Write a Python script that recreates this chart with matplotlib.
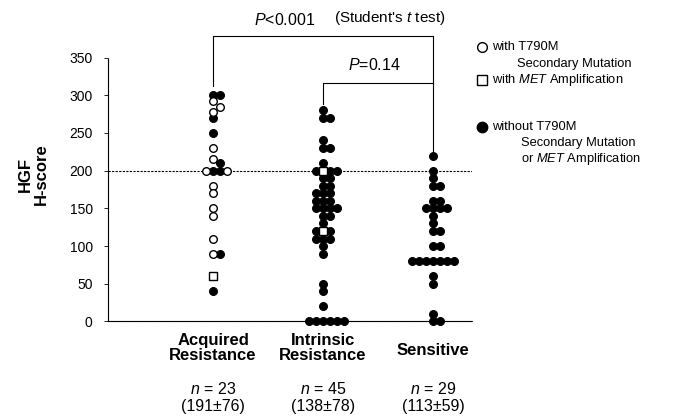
import matplotlib
matplotlib.use("Agg")
import matplotlib.pyplot as plt
import numpy as np

plt.rcParams['font.family'] = ['Liberation Sans', 'DejaVu Sans']
plt.rcParams['mathtext.fontset'] = 'custom'
plt.rcParams['mathtext.it'] = 'Liberation Sans:italic'
plt.rcParams['mathtext.rm'] = 'Liberation Sans'

# data (H-score values), kind: o = T790M, s = MET, f = neither
groups = ["Acquired\nResistance", "Intrinsic\nResistance", "Sensitive"]
n_labels = ["$n$ = 23\n(191\u00b176)", "$n$ = 45\n(138\u00b178)", "$n$ = 29\n(113\u00b159)"]

acq_vals = [300, 300, 292, 285, 278, 270, 250, 230, 215, 210, 200, 200, 200, 200,
            180, 170, 150, 140, 110, 90, 90, 60, 40]
acq_kind = ['f', 'f', 'o', 'o', 'o', 'f', 'f', 'o', 'o', 'f', 'f', 'f', 'o', 'o',
            'o', 'o', 'o', 'o', 'o', 'o', 'f', 's', 'f']

int_vals = [280, 270, 270, 240, 230, 230, 210, 200, 200, 200, 200, 190, 190, 180, 180,
            170, 170, 170, 160, 160, 160, 150, 150, 150, 150, 140, 140, 130,
            120, 120, 120, 110, 110, 110, 100, 90, 50, 40, 20, 0, 0, 0, 0, 0, 0]
int_kind = ['f'] * 7 + ['s', 'f', 'f', 'f'] + ['f'] * 17 + ['s', 'f', 'f'] + ['f'] * 14

sen_vals = [220, 200, 190, 180, 180, 160, 160, 150, 150, 150, 150, 140, 130, 120, 120,
            100, 100, 80, 80, 80, 80, 80, 80, 80, 60, 50, 10, 0, 0]
sen_kind = ['f'] * 29

all_vals = [acq_vals, int_vals, sen_vals]
all_kind = [acq_kind, int_kind, sen_kind]

fig = plt.figure(figsize=(6.75, 4.16), dpi=100)
ax = fig.add_axes([108 / 675, 93 / 416, 364 / 675, 267 / 416])
ax.set_xlim(-0.955, 2.355)
ax.set_ylim(-2, 352)

# pixel scales for the swarm layout
px_x = 364 / (2.355 + 0.955)
px_y = 267 / 354.0
step = 7.0   # px between neighbours in a row
mind = 6.0   # px, minimum distance between dot centres

for gi, (vals, kinds) in enumerate(zip(all_vals, all_kind)):
    placed = []
    xs = []
    for v in vals:
        yp = v * px_y
        for k in [0, 1, -1, 2, -2, 3, -3, 4, -4]:
            xp = k * step
            if all((xp - a) ** 2 + (yp - b) ** 2 >= mind ** 2 for a, b in placed):
                break
        placed.append((xp, yp))
        xs.append(gi + xp / px_x)
    xs = np.array(xs)
    vals = np.array(vals)
    kinds = np.array(kinds)
    m = kinds == 'f'
    ax.scatter(xs[m], vals[m], s=32, c='black', edgecolors='black', linewidths=0.8,
               zorder=3, clip_on=False)
    m = kinds == 'o'
    ax.scatter(xs[m], vals[m], s=30, c='white', edgecolors='black', linewidths=1.0,
               zorder=4, clip_on=False)
    m = kinds == 's'
    ax.scatter(xs[m], vals[m], s=32, marker='s', c='white', edgecolors='black',
               linewidths=1.0, zorder=4, clip_on=False)

# reference line at 200
ax.axhline(200, color='black', lw=0.8, ls=(0, (2, 1.2)), zorder=1)

for side in ['top', 'right']:
    ax.spines[side].set_visible(False)
ax.spines['left'].set_bounds(0, 350)
ax.spines['left'].set_linestyle((0, (1, 0.6)))
ax.spines['bottom'].set_linestyle((0, (1, 0.6)))
ax.spines['left'].set_linewidth(0.8)
ax.spines['bottom'].set_linewidth(0.8)
ax.spines['bottom'].set_position(('data', 0))

ax.set_yticks(np.arange(0, 351, 50))
ax.tick_params(axis='y', direction='out', length=3, width=0.6, labelsize=10, pad=8)
ax.set_xticks([])

ax.text(-0.955 - 75 / px_x, 195, "HGF\nH-score", rotation=90, ha='center', va='center',
        fontsize=12, fontweight='bold', linespacing=1.1)

# category labels and n
for gi in range(3):
    if gi < 2:
        ax.text(gi, -15, groups[gi], ha='center', va='top', fontsize=12,
                fontweight='bold', linespacing=1.05)
    else:
        ax.text(gi, -38, "Sensitive", ha='center', va='center', fontsize=12,
                fontweight='bold')
    ax.text(gi, -79, n_labels[gi], ha='center', va='top', fontsize=11.5, linespacing=1.2)

# significance brackets
ax.plot([0, 0, 2, 2], [312, 378, 378, 226], color='black', lw=0.8, clip_on=False)
ax.plot([1, 1, 2], [289, 316, 316], color='black', lw=0.8, clip_on=False)
ax.text(0.65, 400, "$P$<0.001", ha='center', va='center', fontsize=11.5)
ax.text(1.1, 402, "(Student's $t$ test)", ha='left', va='center', fontsize=11)
ax.text(1.47, 340, "$P$=0.14", ha='center', va='center', fontsize=11.5)

# legend drawn by hand
lx = 482 / 675
fig.lines.append(plt.Line2D([lx], [1 - 47 / 416], marker='o', ms=7, mfc='white',
                            mec='black', mew=1.0, transform=fig.transFigure))
fig.lines.append(plt.Line2D([lx], [1 - 80 / 416], marker='s', ms=7, mfc='white',
                            mec='black', mew=1.0, transform=fig.transFigure))
fig.lines.append(plt.Line2D([lx], [1 - 127 / 416], marker='o', ms=7.5, mfc='black',
                            mec='black', transform=fig.transFigure))
fs = 9.3
fig.text(492 / 675, 1 - 47 / 416, "with T790M", va='center', fontsize=fs)
fig.text(517 / 675, 1 - 64 / 416, "Secondary Mutation", va='center', fontsize=fs)
fig.text(492 / 675, 1 - 80 / 416, "with $MET$ Amplification", va='center', fontsize=fs)
fig.text(492 / 675, 1 - 127 / 416, "without T790M", va='center', fontsize=fs)
fig.text(521 / 675, 1 - 143 / 416, "Secondary Mutation", va='center', fontsize=fs)
fig.text(521 / 675, 1 - 159 / 416, "or $MET$ Amplification", va='center', fontsize=fs)

fig.savefig("out.png", dpi=100)
